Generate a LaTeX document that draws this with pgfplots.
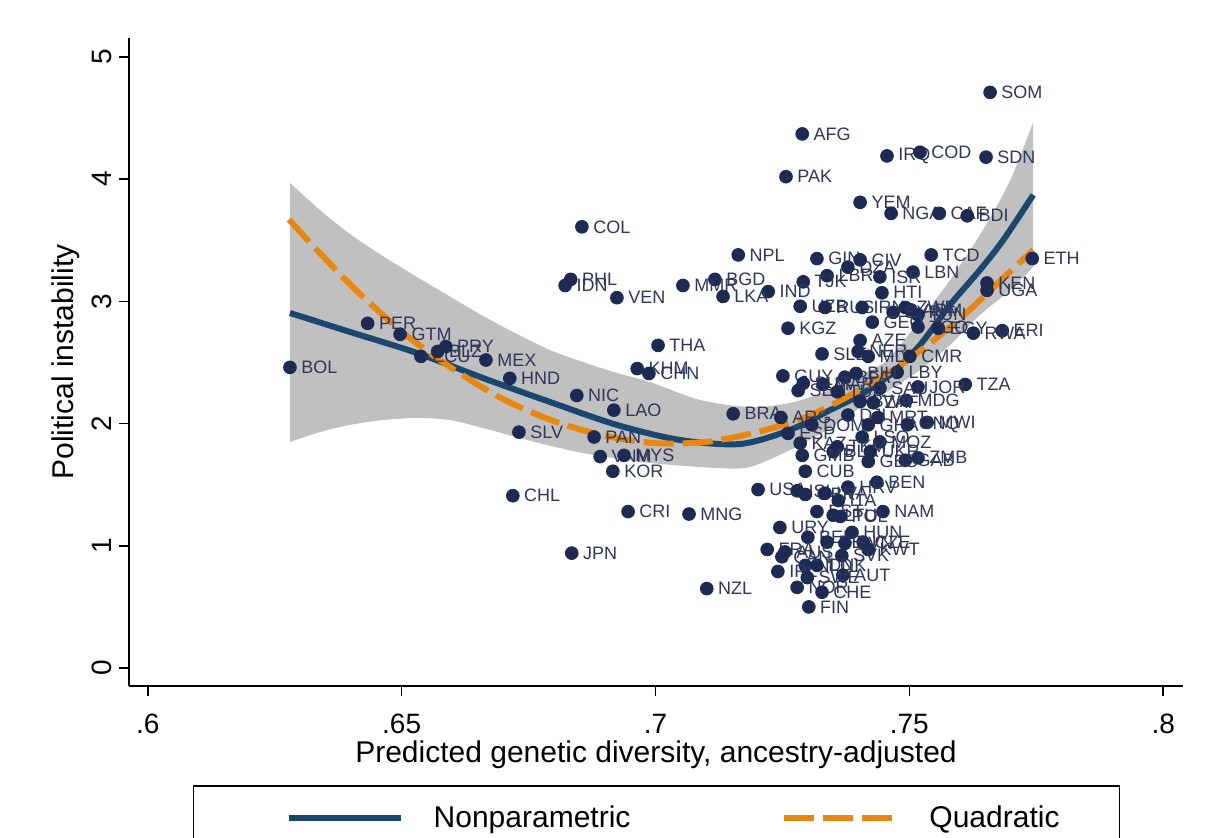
\documentclass[border=0pt]{standalone}
\usepackage{fontspec}
\setmainfont{Liberation Sans}
\usepackage{pgfplots}
\pgfplotsset{compat=1.18}
\usepgfplotslibrary{fillbetween}
\definecolor{stnavy}{RGB}{26,71,111}
\definecolor{storange}{RGB}{232,135,14}
\definecolor{dotblue}{RGB}{28,42,84}
\definecolor{labtext}{RGB}{45,55,90}
\definecolor{bandgray}{RGB}{192,192,192}

\pgfplotstableread{
x y lab
0.7659 4.71 SOM
0.7289 4.37 AFG
0.7456 4.19 IRQ
0.7521 4.22 COD
0.7651 4.18 SDN
0.7257 4.02 PAK
0.7403 3.81 YEM
0.7464 3.72 NGA
0.7559 3.72 CAF
0.7614 3.70 BDI
0.6855 3.61 COL
0.7163 3.38 NPL
0.7318 3.35 GIN
0.7379 3.28 DZA
0.7403 3.34 CIV
0.7543 3.38 TCD
0.7742 3.35 ETH
0.7507 3.24 LBN
0.7338 3.21 LBR
0.7442 3.20 ISR
0.6833 3.18 PHL
0.6822 3.13 IDN
0.7117 3.18 BGD
0.7054 3.13 MMR
0.7291 3.16 TJK
0.7653 3.15 KEN
0.7653 3.09 UGA
0.7222 3.08 IND
0.7446 3.07 HTI
0.7133 3.04 LKA
0.6924 3.03 VEN
0.7285 2.96 UZB
0.7334 2.95 RUS
0.7407 2.95 IRN
0.7492 2.95 ZWE
0.7503 2.93 ARM
0.7468 2.91 SYR
0.7517 2.89 TUN
0.7427 2.83 GEO
0.7517 2.79 TGO
0.7557 2.78 EGY
0.7261 2.78 KGZ
0.7683 2.76 ERI
0.7626 2.74 RWA
0.7403 2.68 AZE
0.7005 2.64 THA
0.6433 2.82 PER
0.6497 2.73 GTM
0.6538 2.55 ECU
0.6571 2.59 BLZ
0.6587 2.63 PRY
0.6666 2.52 MEX
0.7328 2.57 SLE
0.7399 2.59 NER
0.7419 2.55 MLI
0.7501 2.55 CMR
0.6280 2.46 BOL
0.6964 2.45 KHM
0.6987 2.41 CHN
0.7476 2.42 LBY
0.7251 2.39 GUY
0.7373 2.38 BFA
0.7395 2.41 BIH
0.6713 2.37 HND
0.7291 2.33 SUR
0.7330 2.32 MAR
0.7610 2.32 TZA
0.7517 2.30 JOR
0.7442 2.29 SAU
0.7281 2.27 SEN
0.7358 2.26 TUR
0.6845 2.23 NIC
0.7494 2.19 MDG
0.7403 2.18 BWA
0.7429 2.17 ZAF
0.6918 2.11 LAO
0.7153 2.08 BRA
0.7379 2.07 DJI
0.7247 2.05 ARG
0.7438 2.05 MRT
0.7535 2.01 MWI
0.7308 1.99 DOM
0.7419 1.99 GHA
0.7496 1.99 GNQ
0.7261 1.92 ESP
0.6731 1.93 SLV
0.7407 1.89 LSO
0.6879 1.89 PAN
0.7442 1.85 MOZ
0.7285 1.84 KAZ
0.7358 1.81 TKM
0.7350 1.77 BLR
0.7423 1.77 UKR
0.7289 1.74 GMB
0.6891 1.73 VNM
0.6938 1.74 MYS
0.7517 1.72 ZMB
0.7492 1.70 GAB
0.7419 1.69 GBS
0.6916 1.61 KOR
0.7295 1.61 CUB
0.7436 1.52 BEN
0.7379 1.48 HRV
0.7202 1.46 USA
0.7279 1.45 ISL
0.7295 1.42 GBR
0.7334 1.43 LVA
0.6719 1.41 CHL
0.7360 1.37 ITA
0.6946 1.28 CRI
0.7448 1.28 NAM
0.7318 1.28 EST
0.7066 1.26 MNG
0.7350 1.25 LTU
0.7364 1.24 POL
0.7245 1.15 URY
0.7387 1.11 HUN
0.7300 1.07 BEL
0.7338 1.03 DEU
0.7409 1.03 CZE
0.7373 1.02 SVN
0.7419 0.97 KWT
0.7220 0.97 FRA
0.7255 0.95 AUS
0.6835 0.94 JPN
0.7367 0.92 SVK
0.7249 0.91 CAN
0.7295 0.84 NLD
0.7318 0.84 DNK
0.7241 0.79 IRL
0.7369 0.76 AUT
0.7299 0.74 SWE
0.7279 0.66 NOR
0.7101 0.65 NZL
0.7328 0.62 CHE
0.7302 0.50 FIN
}\countries

\begin{document}
\begin{tikzpicture}
\begin{axis}[
  scale only axis, width=527pt, height=324pt,
  xmin=0.5963, xmax=0.8039, ymin=-0.147, ymax=5.155,
  axis lines*=left,
  axis line style={line width=0.75pt, -},
  tick align=outside, major tick length=5pt,
  tick style={line width=0.75pt, black},
  xtick={0.6,0.65,0.7,0.75,0.8}, xticklabels={.6,.65,.7,.75,.8},
  ytick={0,1,2,3,4,5}, yticklabels={0,1,2,3,4,5},
  ticklabel style={font=\fontsize{14}{16}\selectfont},
  xticklabel style={yshift=-5.5pt},
  yticklabel style={rotate=90, anchor=south},
  xlabel={Predicted genetic diversity, ancestry-adjusted},
  ylabel={Political instability},
  label style={font=\fontsize{15}{18}\selectfont},
  xlabel style={at={(axis description cs:0.5,-0.1188)}, anchor=base},
  ylabel style={at={(axis description cs:-0.0531,0.5)}, anchor=base},
  legend columns=2,
  legend style={at={(0.0607,-0.1528)}, anchor=north west, draw=black,
    line width=0.75pt, inner xsep=30pt, inner ysep=10pt,
    font=\fontsize{15}{18}\selectfont, nodes={inner sep=0pt},
    /tikz/every odd column/.append style={column sep=15pt},
    /tikz/every even column/.append style={column sep=59.5pt}},
  legend image code/.code={\path[draw=none] (0pt,0pt) -- (17.5pt,0pt);
    \draw[#1] (17.5pt,0pt) -- (73.5pt,0pt);},
]
% confidence band
\addplot[draw=none, name path=up, smooth, forget plot] coordinates {
(0.6280,3.969) (0.6339,3.748) (0.6398,3.552) (0.6463,3.370) (0.6530,3.200)
(0.6595,3.040) (0.6660,2.881) (0.6727,2.733) (0.6792,2.602) (0.6857,2.504)
(0.6924,2.414) (0.6989,2.340) (0.7088,2.193) (0.7186,2.136) (0.7265,2.169)
(0.7344,2.275) (0.7403,2.398) (0.7456,2.520) (0.7521,2.848) (0.7580,3.175)
(0.7645,3.584) (0.7699,3.993) (0.7744,4.468)};
\addplot[draw=none, name path=lo, smooth, forget plot] coordinates {
(0.6280,1.849) (0.6339,1.931) (0.6398,1.989) (0.6463,2.029) (0.6530,2.046)
(0.6595,2.029) (0.6660,1.964) (0.6747,1.866) (0.6857,1.759) (0.6989,1.678)
(0.7121,1.637) (0.7186,1.645) (0.7265,1.784) (0.7344,1.964) (0.7403,2.128)
(0.7462,2.275) (0.7521,2.439) (0.7580,2.643) (0.7639,2.889) (0.7699,3.093)
(0.7744,3.282)};
\addplot[fill=bandgray, draw=none, forget plot] fill between[of=up and lo];
% nonparametric fit
\addplot[stnavy, line width=3pt, smooth] coordinates {
(0.6280,2.905) (0.6398,2.750) (0.6530,2.578) (0.6660,2.373) (0.6792,2.177)
(0.6924,1.989) (0.7048,1.866) (0.7167,1.833) (0.7265,1.948) (0.7344,2.111)
(0.7403,2.234) (0.7462,2.398) (0.7521,2.643) (0.7580,2.971) (0.7639,3.257)
(0.7685,3.502) (0.7744,3.871)};
\addlegendentry{Nonparametric}
% countries
\addplot[only marks, mark=*, mark size=3.2pt, mark options={fill=dotblue, draw=dotblue},
  nodes near coords, point meta=explicit symbolic,
  nodes near coords style={anchor=west, font=\fontsize{9}{10}\selectfont,
    text=labtext, inner sep=0pt, xshift=5.5pt}, forget plot]
  table[x=x, y=y, meta=lab] {\countries};
% quadratic fit
\addplot[storange, line width=3pt, dash pattern=on 15pt off 4.5pt, smooth] coordinates {
(0.6278,3.67) (0.6340,3.39) (0.6418,3.06) (0.6510,2.72) (0.6600,2.45)
(0.6700,2.20) (0.6800,2.02) (0.6900,1.90) (0.7000,1.84) (0.7100,1.85)
(0.7200,1.93) (0.7300,2.06) (0.7400,2.27) (0.7500,2.53) (0.7600,2.86)
(0.7700,3.25) (0.7744,3.42)};
\addlegendentry{Quadratic\hspace{5pt}}
\end{axis}
\pgfresetboundingbox
\path[use as bounding box] (-64.5pt,-76pt) rectangle (539.5pt,343pt);
\end{tikzpicture}
\end{document}
